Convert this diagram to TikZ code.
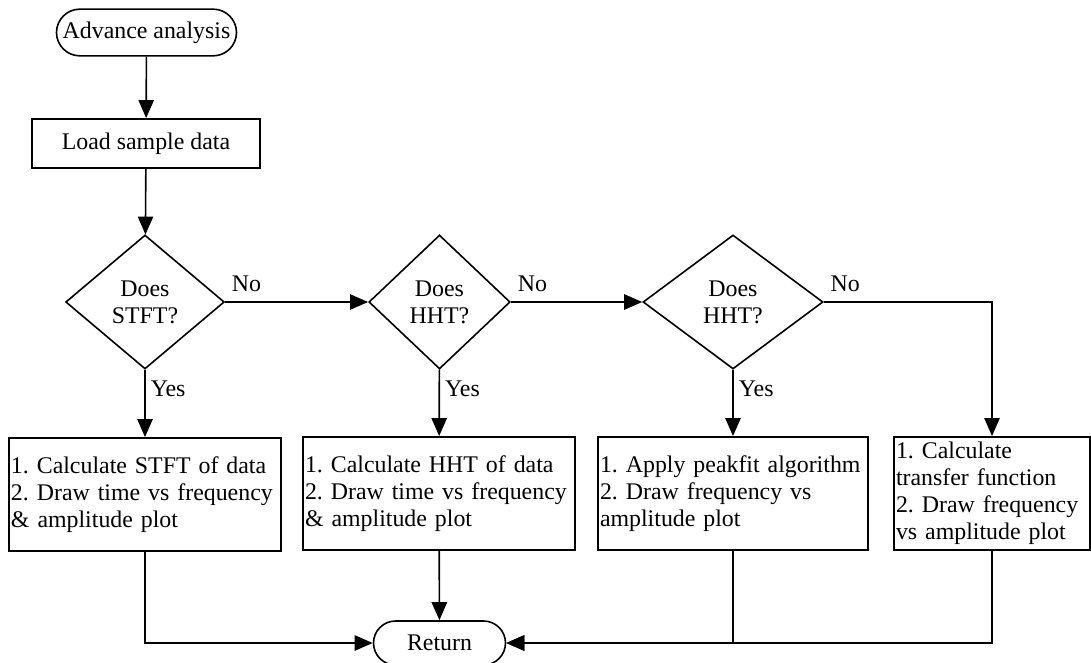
\documentclass[tikz,border=0pt]{standalone}
\usepackage{fontspec}
\setmainfont{Liberation Serif}
\usetikzlibrary{positioning,arrows.meta,shapes.geometric,shapes.misc}
\frenchspacing

\begin{document}
\begin{tikzpicture}[x=0.75pt, y=-0.75pt, line width=1.2pt,
  every node/.style={font=\fontsize{17.9}{20.25}\selectfont, inner sep=1pt},
  terminal/.style={draw, rounded rectangle},
  process/.style={draw, rectangle, line width=1.4pt, align=left,
        inner xsep=1.5pt, minimum height=84.75pt},
  decision/.style={draw, diamond, align=center, minimum height=100.5pt},
  flow/.style={-{Triangle[length=13.5pt, width=11.5pt]}},
  yeslabel/.style={anchor=north west, inner xsep=3.75pt, inner ysep=7.5pt},
  nolabel/.style={anchor=south west, inner xsep=4.5pt, inner ysep=6.75pt}]
  \useasboundingbox (0,0) rectangle (1091,663);
  % start and loading
  \node[terminal, minimum width=137pt, minimum height=35pt] (start) at (146.5,32.5) {Advance analysis};
  \node[draw, line width=1.4pt, minimum width=171pt, minimum height=36.75pt] (load) at (146,143.5) {Load sample data};
  % decisions
  \node[decision, minimum width=119pt] (stft) at (145,302) {Does\\STFT?};
  \node[decision, minimum width=106pt] (hht) at (439.5,302) {Does\\HHT?};
  \node[decision, minimum width=135pt] (peak) at (733,302) {Does\\HHT?};
  % results
  \node[process, text width=201pt] (calcstft) at (145,494.5)
        {1. Calculate STFT of data\\2. Draw time vs frequency\\\& amplitude plot};
  \node[process, text width=201pt] (calchht) at (439,493.5)
        {1. Calculate HHT of data\\2. Draw time vs frequency\\\& amplitude plot};
  \node[process, text width=199.5pt] (peakfit) at (733,493.5)
        {1. Apply peakfit algorithm\\2. Draw frequency vs\\amplitude plot};
  \node[process, text width=144pt] (transfer) at (992,493.5)
        {1. Calculate\\transfer function\\2. Draw frequency\\vs amplitude plot};
  \node[terminal, minimum width=101pt, minimum height=33pt] (ret) at (439.5,643) {Return};

  \draw[flow] (start) -- (load);
  \draw[flow] (load) -- (stft);
  \draw[flow] (stft) -- node[pos=0, nolabel]{No} (hht);
  \draw[flow] (hht) -- node[pos=0, nolabel]{No} (peak);
  \draw[flow] (peak.east) -| node[pos=0, nolabel]{No} (transfer);
  \draw[flow] (stft) -- node[pos=0, yeslabel]{Yes} (calcstft);
  \draw[flow] (hht) -- node[pos=0, yeslabel]{Yes} (calchht);
  \draw[flow] (peak) -- node[pos=0, yeslabel]{Yes} (peakfit);
  \draw[flow] (calcstft) |- (ret);
  \draw[flow] (calchht) -- (ret);
  \draw[flow] (peakfit) |- (ret);
  \draw[flow] (transfer) |- (ret);
\end{tikzpicture}
\end{document}
